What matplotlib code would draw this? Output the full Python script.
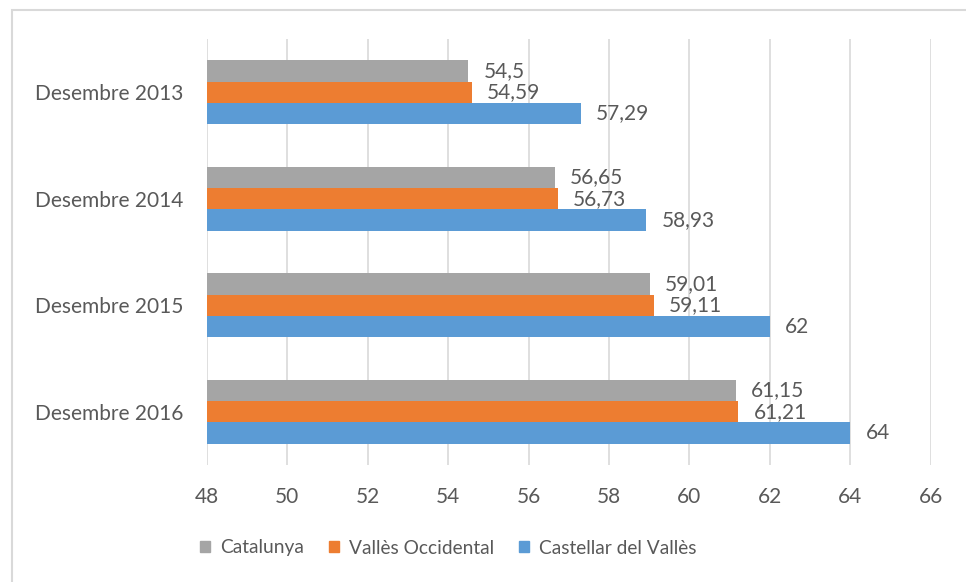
import numpy as np
import matplotlib
matplotlib.use("Agg")
import matplotlib.pyplot as plt
from matplotlib.patches import Patch, Rectangle

plt.rcParams['font.family'] = ['Lato', 'DejaVu Sans']

# data
categories = ["Desembre 2013", "Desembre 2014", "Desembre 2015", "Desembre 2016"]
series_names = ["Catalunya", "Vallès Occidental", "Castellar del Vallès"]
catalunya = [54.5, 56.65, 59.01, 61.15]
valles_occ = [54.59, 56.73, 59.11, 61.21]
castellar = [57.29, 58.93, 62, 64]
x_ticks = [48, 50, 52, 54, 56, 58, 60, 62, 64, 66]

colors = ["#A5A5A5", "#ED7D31", "#5B9BD5"]
text_col = "#595959"
fs = 15

W, H = 966, 582
fig = plt.figure(figsize=(W / 100, H / 100), dpi=100)
ax = fig.add_axes([207 / W, 1 - 465 / H, (930.7 - 207) / W, (465 - 39) / H])

# chart border
fig.patches.append(Rectangle((12 / W, -0.1), 1.2, 1 - 10 / H + 0.1,
                             transform=fig.transFigure, fill=False,
                             edgecolor="#D9D9D9", linewidth=1.5))

y = np.arange(len(categories))
h = 0.2
all_series = [catalunya, valles_occ, castellar]
for i, (vals, col) in enumerate(zip(all_series, colors)):
    bars = ax.barh(y + (i - 1) * h, np.array(vals) - 48, left=48, height=h,
                   color=col, label=series_names[i])
    labels = [("%g" % v).replace(".", ",") for v in vals]
    ax.bar_label(bars, labels=labels, padding=11, fontsize=fs, color=text_col)

ax.set_xlim(48, 66)
ax.set_ylim(3.5, -0.5)
ax.set_xticks(x_ticks)
ax.set_yticks(y)
ax.set_yticklabels(categories)
ax.tick_params(axis='x', length=0, pad=16, labelsize=fs, labelcolor=text_col)
ax.tick_params(axis='y', length=0, pad=17, labelsize=fs, labelcolor=text_col)
ax.grid(axis='x', color="#D9D9D9", linewidth=1.2)
ax.set_axisbelow(True)
for s in ax.spines.values():
    s.set_visible(False)

handles = [Patch(color=c, label=n) for c, n in zip(colors, series_names)]
fig.legend(handles=handles, loc='center', bbox_to_anchor=(448 / W, 1 - 548 / H),
           ncol=3, frameon=False, fontsize=13.8, labelcolor=text_col,
           handlelength=0.55, handleheight=0.55, handletextpad=0.5,
           columnspacing=1.3)

fig.savefig("out.png", dpi=100)
